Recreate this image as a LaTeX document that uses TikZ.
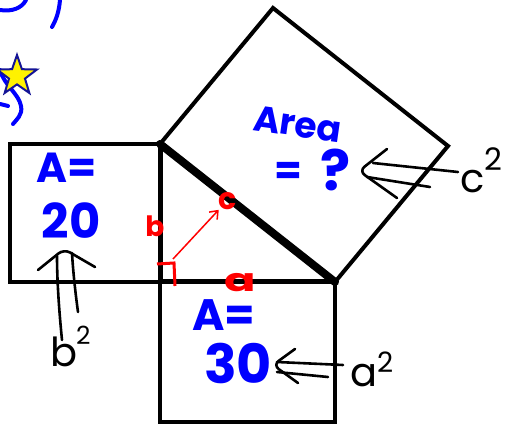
\documentclass[tikz,border=0pt]{standalone}
\usepackage{fontspec}
\newfontfamily\hand{Poppins}
\usetikzlibrary{shapes.geometric,arrows.meta}
\definecolor{penblue}{RGB}{0,0,255}
\definecolor{penred}{RGB}{255,0,0}
\definecolor{stardark}{RGB}{20,20,150}
\newcommand{\supnum}[2]{\raisebox{#1}{\fontsize{#2}{#2}\selectfont 2}}
\begin{document}
\begin{tikzpicture}[x=1pt,y=-1pt,
  edge/.style={line width=4pt, line join=miter},
  ink/.style={line width=4pt, line cap=round, penblue},
  pen/.style={line width=2.6pt, line cap=round, line join=round, black},
  chev/.style={pen, rounded corners=7pt},
  bluetxt/.style={text=penblue, inner sep=0pt},
  redtxt/.style={text=penred, inner sep=0pt},
  blacktxt/.style={text=black, inner sep=0pt}]
\useasboundingbox (0,0) rectangle (506,427);
% corners
\coordinate (A) at (160,144);
\coordinate (B) at (160,282);
\coordinate (C) at (335,282);
\coordinate (T) at (273,8);
\coordinate (R) at (448,146);
% squares
\draw[edge] (A) -- (10,144) -- (10,282) -- (B);
\draw[edge] (B) -- (160,422) -- (335,422) -- (C);
\draw[edge] (A) -- (T) -- (R) -- (C);
\draw[line width=5pt, line join=miter] (A) -- (B) -- (C);
\draw[line width=8pt, line cap=round] (A) -- (C);
% blue scribbles top-left
\draw[ink] (0,10) .. controls (12,12) and (22,8) .. (26,0);
\draw[ink] (60,0) .. controls (59,12) and (56,20) .. (52,27);
\draw[ink] (0,70) .. controls (4,85) and (19,94) .. (21,106) .. controls (23,115) and (16,120) .. (13,124);
\draw[ink] (0,104) -- (8,106);
\node[star, star points=5, star point ratio=2.5, minimum size=42pt, inner sep=0pt,
      fill=yellow, draw=stardark, line width=2pt] (star) at (17,76) {};
% blue texts
\node[bluetxt, font=\hand\bfseries\fontsize{42}{42}\selectfont] (la) at (67,168) {A=};
\node[bluetxt, font=\hand\bfseries\fontsize{48}{48}\selectfont] (l20) at (71,221) {20};
\node[bluetxt, font=\hand\bfseries\fontsize{44}{44}\selectfont] (ba) at (224,315) {A=};
\node[bluetxt, font=\hand\bfseries\fontsize{54}{54}\selectfont] (b30) at (238,363) {30};
\node[bluetxt, font=\hand\bfseries\fontsize{36}{36}\selectfont, rotate=-8] (area) at (298,124) {Area};
\node[bluetxt, font=\hand\bfseries\fontsize{40}{40}\selectfont] (eq) at (288,173) {=};
\node[bluetxt, font=\hand\bfseries\fontsize{56}{56}\selectfont] (q) at (336,170) {?};
% red marks
\node[redtxt, font=\hand\bfseries\fontsize{28}{28}\selectfont] (lb) at (155,226) {b};
\node[redtxt, font=\hand\bfseries\fontsize{30}{30}\selectfont] (lc) at (228,201) {c};
\node[redtxt, font=\hand\bfseries\fontsize{32}{32}\selectfont, xscale=1.45] (lal) at (240,283) {a};
\coordinate (ra) at (173,259);
\draw[penred, line width=1.5pt, -{Straight Barb[length=7pt,width=11pt]}] (ra) -- (lc.south west);
\draw[penred, line width=3pt] (157,264) -- (174,263) -- (175,286);
% black labels
\node[blacktxt, font=\hand\fontsize{40}{40}\selectfont, anchor=base west] (c2) at (460,193) {c\supnum{22pt}{31}};
\node[blacktxt, font=\hand\fontsize{40}{40}\selectfont, anchor=base west] (a2) at (350,387) {a\supnum{14pt}{28}};
\node[blacktxt, font=\hand\fontsize{40}{40}\selectfont, anchor=base west] (b2) at (50,367) {b\hspace{-1pt}\supnum{22pt}{25}};
% double arrows
\draw[pen] (458,172) -- (373,163);
\draw[pen] (430,187) -- (367,177);
\draw[chev] (387,149) -- (359,171) -- (397,198);
\draw[pen] (343,365) -- (277,362);
\draw[pen] (328,377) -- (277,372);
\draw[chev] (295,349) -- (273,365) -- (298,383);
\draw[pen] (78,312) .. controls (75,290) and (73,270) .. (72,253);
\draw[pen] (62,340) .. controls (59,310) and (57,280) .. (57,256);
\draw[chev] (38,270) -- (64,249) -- (95,267);
\end{tikzpicture}
\end{document}
